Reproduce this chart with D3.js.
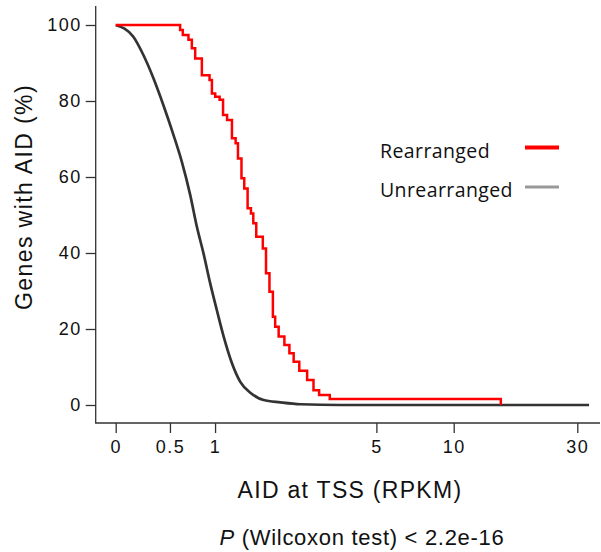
<!DOCTYPE html>
<html>
<head>
<meta charset="utf-8">
<script src="https://cdn.jsdelivr.net/npm/d3@7"></script>
<style>
  body { margin: 0; background: #fff; }
  svg text { fill: #111; }
</style>
</head>
<body>
<div id="chart"></div>
<script>
// rearranged genes: AID (RPKM) where curve steps down, % of genes left after the step
const rearrX = [0, 0.603, 0.631, 0.691, 0.728, 0.765, 0.841, 0.932, 0.961, 1.002, 1.058,
  1.103, 1.157, 1.224, 1.276, 1.310, 1.362, 1.404, 1.456, 1.509, 1.547, 1.596, 1.708,
  1.765, 1.828, 1.892, 1.936, 2.004, 2.121, 2.227, 2.321, 2.450, 2.640, 2.804, 2.956,
  3.264, 15.21];
const rearrY = [100, 98.7, 97.4, 96.1, 93.9, 91.2, 86.8, 85.5, 82.0, 81.1, 80.3,
  76.3, 75.0, 70.2, 68.9, 64.9, 59.7, 57.0, 51.8, 50.4, 47.8, 44.3, 41.2,
  34.7, 29.8, 23.2, 20.6, 18.0, 15.8, 13.6, 11.4, 9.0, 6.6, 3.9, 2.6,
  1.6, 0];

// unrearranged genes (many genes, nearly smooth curve)
const unrearrX = [0, 0.157, 0.248, 0.341, 0.436, 0.535, 0.621, 0.710, 0.784, 0.860,
  0.940, 1.022, 1.111, 1.224, 1.344, 1.509, 1.722, 2.038, 2.475, 3.605, 33.3];
const unrearrY = [100, 96.9, 92.1, 86.0, 78.9, 71.1, 64.0, 55.3, 46.9, 39.9,
  32.0, 25.0, 18.0, 11.0, 6.1, 3.1, 1.3, 0.7, 0.2, 0, 0];

const xTicks = [0, 0.5, 1, 5, 10, 30];
const xTickLabels = ["0", "0.5", "1", "5", "10", "30"];
const yTicks = [0, 20, 40, 60, 80, 100];

const legendNames = ["Rearranged", "Unrearranged"];
const legendColors = ["#ff0000", "#999999"];

const width = 601, height = 552;
const axisX = 95.7, axisY = 423;

const svg = d3.select("#chart").append("svg")
  .attr("width", width)
  .attr("height", height)
  .style("font-family", "'Liberation Sans', Arial, sans-serif");

// x is drawn on an asinh-transformed axis
const xs = d3.scaleLinear()
  .domain([0, Math.asinh(30)])
  .range([115.7, 577.3]);
const x = v => xs(Math.asinh(v));

const y = d3.scaleLinear()
  .domain([0, 100])
  .range([405, 25]);

// L-shaped frame
svg.append("path")
  .attr("d", `M${axisX},6V${axisY}H600`)
  .attr("fill", "none")
  .attr("stroke", "#333")
  .attr("stroke-width", 1.3);

const yAxis = svg.append("g")
  .attr("transform", `translate(${axisX},0)`)
  .call(d3.axisLeft(y).tickValues(yTicks).tickSize(10).tickPadding(4));
yAxis.select(".domain").remove();

const xAxis = svg.append("g")
  .attr("transform", `translate(0,${axisY})`)
  .call(d3.axisBottom(xs)
    .tickValues(xTicks.map(Math.asinh))
    .tickSize(10).tickPadding(7)
    .tickFormat((d, i) => xTickLabels[i]));
xAxis.select(".domain").remove();

svg.selectAll(".tick line").attr("stroke", "#333").attr("stroke-width", 1.3);
svg.selectAll(".tick text")
  .attr("fill", "#111")
  .style("font-size", "18px")
  .style("letter-spacing", "1.5px");

const line = d3.line()
  .x(d => x(d[0]))
  .y(d => y(d[1]));

svg.append("path")
  .datum(unrearrX.map((v, i) => [v, unrearrY[i]]))
  .attr("d", line.curve(d3.curveMonotoneX))
  .attr("fill", "none")
  .attr("stroke", "#333")
  .attr("stroke-width", 2.7);

svg.append("path")
  .datum(rearrX.map((v, i) => [v, rearrY[i]]))
  .attr("d", line.curve(d3.curveStepAfter))
  .attr("fill", "none")
  .attr("stroke", "#ff0000")
  .attr("stroke-width", 2.5);

// legend
const leg = svg.append("g");
legendNames.forEach((name, i) => {
  const ly = 147.5 + i * 39.5;
  leg.append("text")
    .attr("x", 380).attr("y", ly + 10)
    .style("font-family", "'Open Sans', sans-serif")
    .style("font-size", "19.5px")
    .style("letter-spacing", "0.4px")
    .text(name);
  leg.append("line")
    .attr("x1", 525).attr("x2", 559)
    .attr("y1", ly).attr("y2", ly)
    .attr("stroke", legendColors[i])
    .attr("stroke-width", i === 0 ? 4 : 3);
});

// axis titles
svg.append("text")
  .attr("x", 350).attr("y", 498)
  .attr("text-anchor", "middle")
  .style("font-size", "23px")
  .style("letter-spacing", "1.3px")
  .text("AID at TSS (RPKM)");

svg.append("text")
  .attr("transform", "translate(32,197) rotate(-90)")
  .attr("text-anchor", "middle")
  .style("font-size", "23px")
  .style("letter-spacing", "1.4px")
  .text("Genes with AID (%)");

const pText = svg.append("text")
  .attr("x", 362).attr("y", 545)
  .attr("text-anchor", "middle")
  .style("font-size", "22px")
  .style("letter-spacing", "0.7px");
pText.append("tspan").style("font-style", "italic").text("P");
pText.append("tspan").text(" (Wilcoxon test) < 2.2e-16");
</script>
</body>
</html>
